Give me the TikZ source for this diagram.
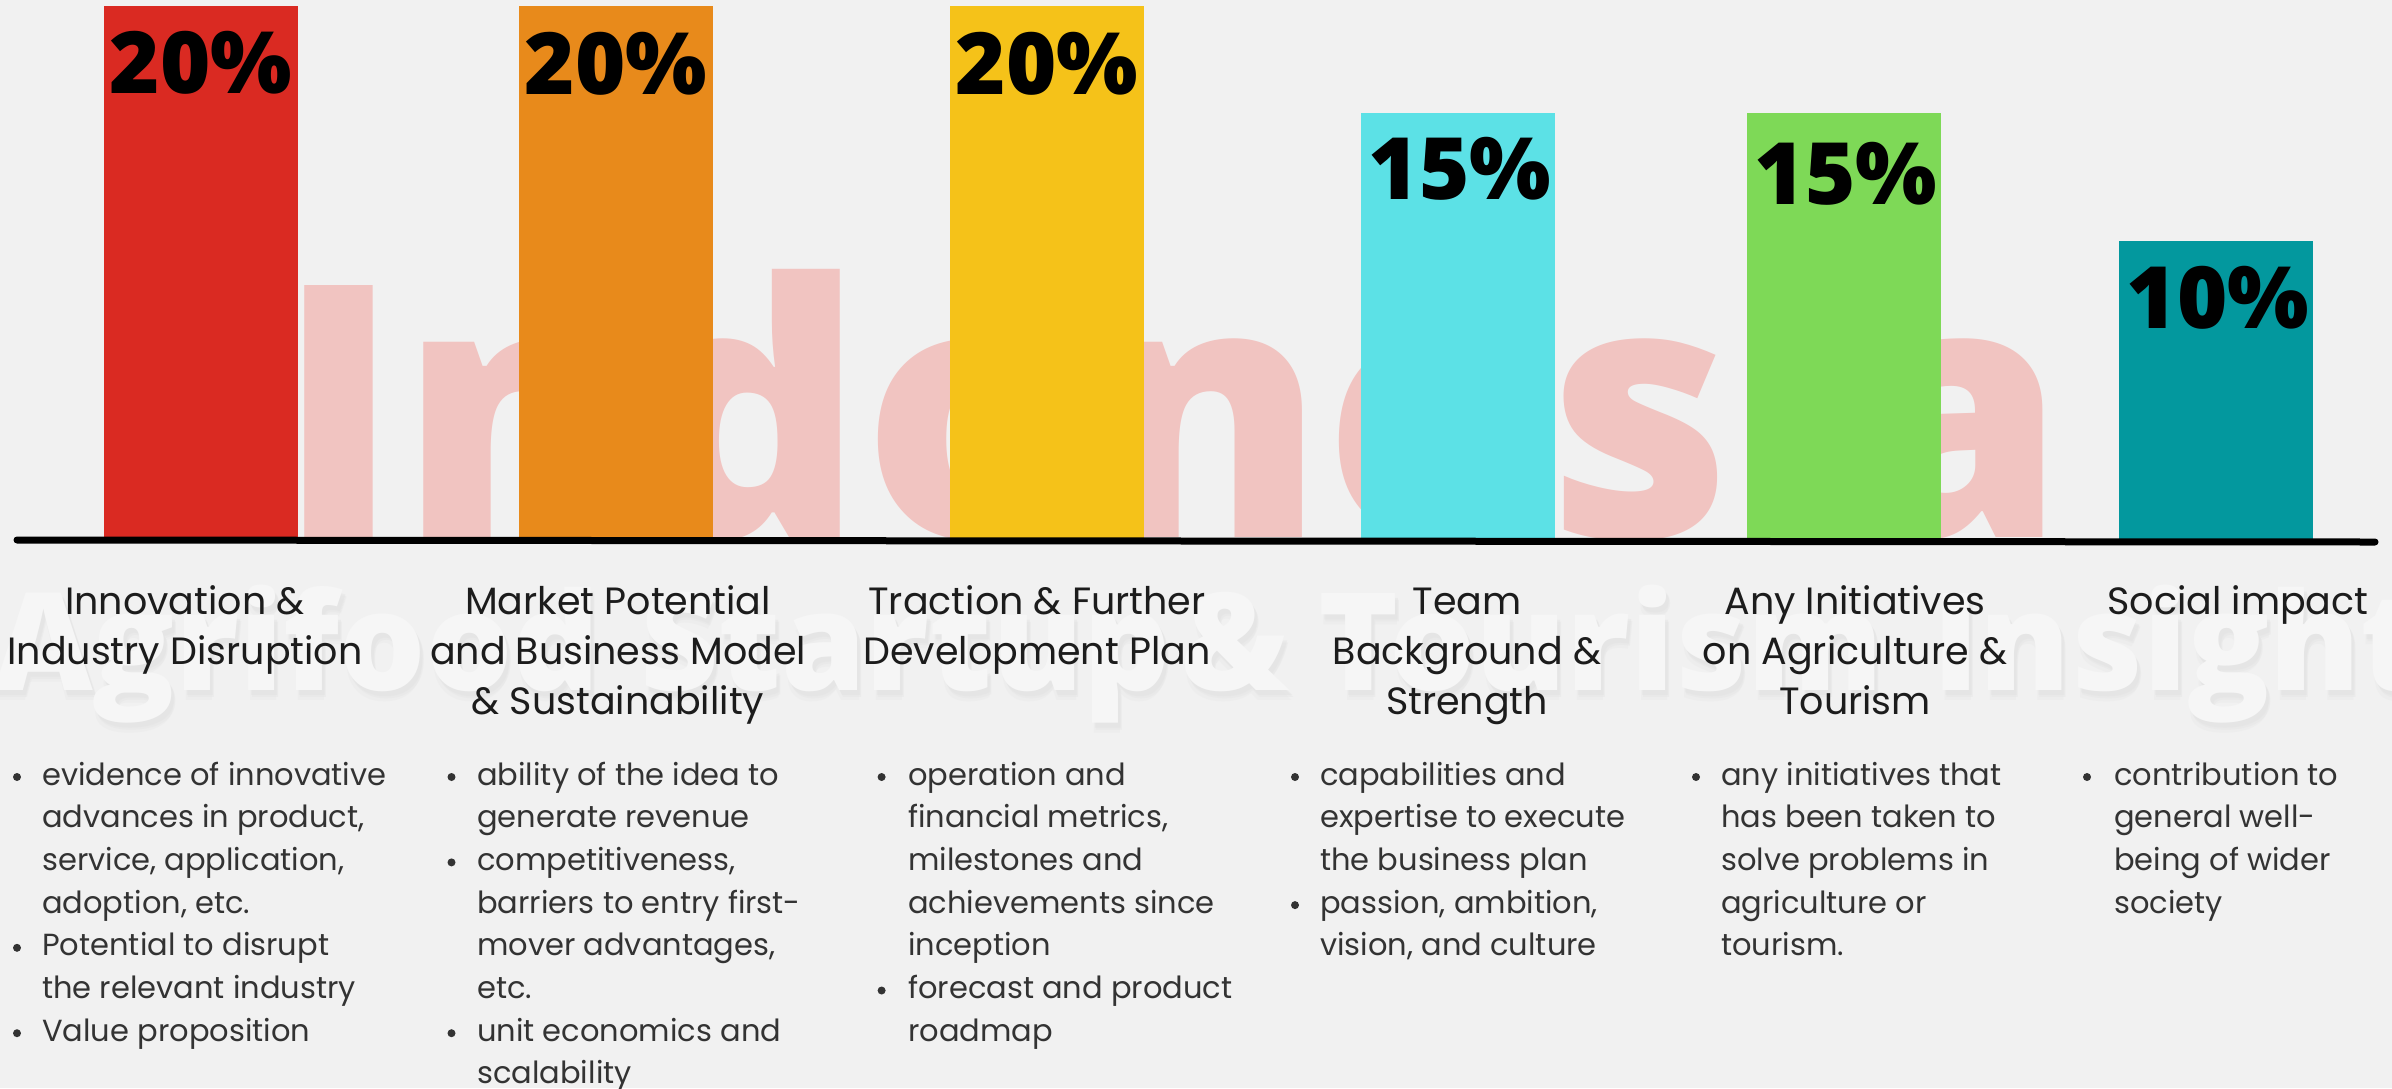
\documentclass[tikz,border=0pt]{standalone}
\usepackage{fontspec}
\setmainfont{Poppins}
\IfFontExistsTF{Open Sans ExtraBold}
  {\newfontfamily\osans{Open Sans ExtraBold}}
  {\IfFontExistsTF{Open Sans Extrabold}
     {\newfontfamily\osans{Open Sans Extrabold}}
     {\newfontfamily\osans{Open Sans}[UprightFont=* Bold, FakeBold=1.6]}}
\newfontfamily\txtfont{Poppins}
\definecolor{bgc}{HTML}{F1F1F1}
\definecolor{wmpink}{HTML}{F1C4C1}
\definecolor{wmwhite}{HTML}{F6F6F6}
\definecolor{wmshadow}{HTML}{E2E2E2}
\definecolor{cRed}{HTML}{DA2A22}
\definecolor{cOrange}{HTML}{E88A1B}
\definecolor{cYellow}{HTML}{F5C219}
\definecolor{cCyan}{HTML}{5CE1E6}
\definecolor{cGreen}{HTML}{7ED957}
\definecolor{cTeal}{HTML}{03989E}
\definecolor{titlec}{HTML}{1C1C1C}
\definecolor{bodyc}{HTML}{333333}
\tikzset{
  barbox/.style={inner sep=0pt, outer sep=0pt, draw=none, minimum width=194pt, anchor=south west},
  pct/.style={inner sep=0pt, anchor=base, text=black, font=\osans\fontsize{86}{86}\selectfont},
  title/.style={inner sep=0pt, anchor=base, text=titlec, font=\txtfont\fontsize{38}{50.2}\selectfont},
  body/.style={inner sep=0pt, anchor=base west, text=bodyc, font=\txtfont\fontsize{30.5}{42.7}\selectfont},
  wmbig/.style={inner sep=0pt, anchor=base west, font=\osans\fontsize{353}{353}\selectfont},
  wmmid/.style={inner sep=0pt, anchor=base west, font=\osans\fontsize{136}{136}\selectfont},
  dot/.style={fill=bodyc}
}
\newcommand{\ttl}[1]{\begin{tabular}[t]{@{}c@{}}#1\end{tabular}}
\newcommand{\bdy}[1]{\begin{tabular}[t]{@{}l@{}}#1\end{tabular}}
% watermark word with soft shadow: name, x, text
\newcommand{\wmword}[3]{%
  \foreach \dx/\dy/\op in {2/10/0.25, 4/7/0.35, 3/5/0.45}{%
    \node[wmmid, text=wmshadow, opacity=\op] at (#2+\dx,690+\dy) {#3};}%
  \node[wmmid, text=wmwhite] (#1) at (#2,690) {#3};}
\begin{document}
\begin{tikzpicture}[x=1pt,y=-1pt]
\useasboundingbox (0,0) rectangle (2392,1088);
\fill[bgc] (0,0) rectangle (2392,1088);
% big pink watermark
\node[wmbig, text=wmpink] (wmA) at (277,537) {Indonesia};
% bars
\node[barbox, fill=cRed,    minimum height=534pt] (bar1) at (104,540) {};
\node[barbox, fill=cOrange, minimum height=534pt] (bar2) at (519,540) {};
\node[barbox, fill=cYellow, minimum height=534pt] (bar3) at (950,540) {};
\node[barbox, fill=cCyan,   minimum height=427pt] (bar4) at (1361,540) {};
\node[barbox, fill=cGreen,  minimum height=427pt] (bar5) at (1747,540) {};
\node[barbox, fill=cTeal,   minimum height=299pt] (bar6) at (2119,540) {};
% percentages
\node[pct] (p1) at (201,93) {20\%};
\node[pct] (p2) at (616,94) {20\%};
\node[pct] (p3) at (1047,94) {20\%};
\node[pct] (p4) at (1460,199) {15\%};
\node[pct] (p5) at (1846,204) {15\%};
\node[pct] (p6) at (2218,328) {10\%};
% axis line
\coordinate (axL) at (17,540);
\coordinate (axR) at (2375,542);
\draw[line width=7pt, line cap=round, black] (axL) -- (axR);
% white watermark words
\wmword{wm1}{-6}{Agrifood}
\wmword{wm2}{640}{Startup}
\wmword{wm3}{1180}{\&}
\wmword{wm4}{1318}{Tourism}
\wmword{wm5}{1932}{Insight}
% titles
\node[title] (t1) at (185,614.5) {\ttl{Innovation \&\\Industry Disruption}};
\node[title] (t2) at (618,614.5) {\ttl{Market Potential\\and Business Model\\\& Sustainability}};
\node[title] (t3) at (1037,614.5) {\ttl{Traction \& Further\\Development Plan}};
\node[title] (t4) at (1467,614.5) {\ttl{Team\\Background \&\\Strength}};
\node[title] (t5) at (1855,614.5) {\ttl{Any Initiatives\\on Agriculture \&\\Tourism}};
\node[title] (t6) at (2238,614.5) {\ttl{Social impact}};
% body texts
\node[body] (d1) at (42,785) {\bdy{evidence of innovative\\advances in product,\\service, application,\\adoption, etc.\\Potential to disrupt\\the relevant industry\\Value proposition}};
\node[body] (d2) at (477,785) {\bdy{ability of the idea to\\generate revenue\\competitiveness,\\barriers to entry first-\\mover advantages,\\etc.\\unit economics and\\scalability}};
\node[body] (d3) at (908,785) {\bdy{operation and\\financial metrics,\\milestones and\\achievements since\\inception\\forecast and product\\roadmap}};
\node[body] (d4) at (1320,785) {\bdy{capabilities and\\expertise to execute\\the business plan\\passion, ambition,\\vision, and culture}};
\node[body] (d5) at (1721,785) {\bdy{any initiatives that\\has been taken to\\solve problems in\\agriculture or\\tourism.}};
\node[body] (d6) at (2114,785) {\bdy{contribution to\\general well-\\being of wider\\society}};
% bullets
\foreach \bx/\k in {17/0,17/4,17/6, 451.5/0,451.5/2,451.5/6, 881.6/0,881.6/5, 1295/0,1295/3, 1696/0, 2087/0}{
  \fill[dot] (\bx,{785-8+42.7*\k}) circle (4);
}
\end{tikzpicture}
\end{document}
